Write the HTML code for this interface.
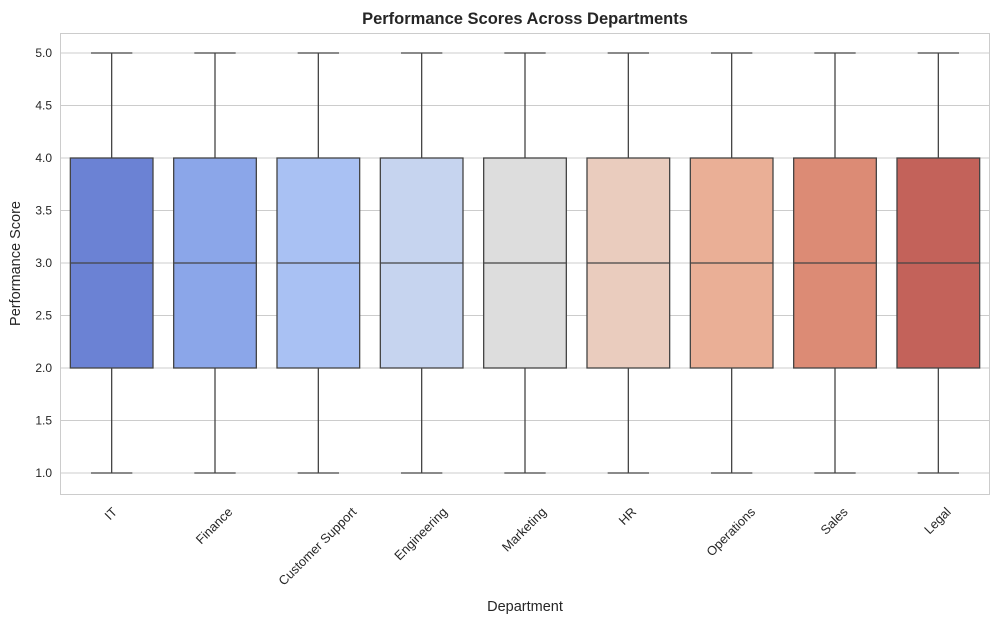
<!DOCTYPE html>
<html><head><meta charset="utf-8"><style>
body{margin:0;background:#fff;font-family:"Liberation Sans",Arial,sans-serif}
svg text{font-family:"Liberation Sans",Arial,sans-serif;fill:#262626}
</style></head><body>
<svg id="chart" width="999" height="624" viewBox="0 0 999 624">
<text x="525" y="24" text-anchor="middle" font-size="16.5" font-weight="bold">Performance Scores Across Departments</text>
<rect x="60.5" y="33.5" width="929" height="461" fill="none" stroke="#cccccc"/>
<g id="grid"></g><g id="boxes"></g><g id="yticks"></g><g id="xticks"></g>
<text x="525" y="611" text-anchor="middle" font-size="14.5">Department</text>
<text transform="translate(20,263.5) rotate(-90)" text-anchor="middle" font-size="14.5">Performance Score</text>
</svg>
<script>
const categories=["IT","Finance","Customer Support","Engineering","Marketing","HR","Operations","Sales","Legal"];
const mins=[1,1,1,1,1,1,1,1,1];
const q1s=[2,2,2,2,2,2,2,2,2];
const medians=[3,3,3,3,3,3,3,3,3];
const q3s=[4,4,4,4,4,4,4,4,4];
const maxs=[5,5,5,5,5,5,5,5,5];
const colors=["#6b82d4","#8ba6e9","#a9c1f3","#c6d4ef","#dddddd","#eaccbe","#eaaf96","#dc8b75","#c3625a"];
const yTicks=[1.0,1.5,2.0,2.5,3.0,3.5,4.0,4.5,5.0];
const NS="http://www.w3.org/2000/svg";
const L=60,R=990,T=33,B=494;
const y=v=>473-(v-1)*105;
const step=(R-L)/categories.length;
const x=i=>L+step*(i+0.5);
function mk(t,a,p){const e=document.createElementNS(NS,t);for(const k in a)e.setAttribute(k,a[k]);p.appendChild(e);return e;}
const grid=document.getElementById('grid'),yt=document.getElementById('yticks');
yTicks.forEach(v=>{
 const l=mk('line',{x1:L,x2:R,y1:y(v),y2:y(v),stroke:'#cccccc','stroke-width':1},grid);
 
 
 const t=mk('text',{x:L-8,y:y(v)+4,'text-anchor':'end','font-size':12},yt);
 t.textContent=v.toFixed(1);
 
 
});
const bx=document.getElementById('boxes'),xt=document.getElementById('xticks');
const bw=step*0.8;
categories.forEach((c,i)=>{
 const cx=x(i),g=mk('g',{},bx);
 
 
 const s={stroke:'#444','stroke-width':1.3};
 mk('line',Object.assign({x1:cx,x2:cx,y1:y(maxs[i]),y2:y(q3s[i])},s),g);
 mk('line',Object.assign({x1:cx,x2:cx,y1:y(q1s[i]),y2:y(mins[i])},s),g);
 mk('line',Object.assign({x1:cx-bw/4,x2:cx+bw/4,y1:y(maxs[i]),y2:y(maxs[i])},s),g);
 mk('line',Object.assign({x1:cx-bw/4,x2:cx+bw/4,y1:y(mins[i]),y2:y(mins[i])},s),g);
 mk('rect',Object.assign({x:cx-bw/2,y:y(q3s[i]),width:bw,height:y(q1s[i])-y(q3s[i]),fill:colors[i]},s),g);
 mk('line',Object.assign({x1:cx-bw/2,x2:cx+bw/2,y1:y(medians[i]),y2:y(medians[i])},s),g);
 const t=mk('text',{'font-size':12.8,'text-anchor':'middle','dominant-baseline':'central'},xt);
 t.textContent=c;
 
 
 const w=t.getComputedTextLength(),h=12.8;
 const cy=505+(w+h)*0.7071/2;
 const tx=cx-1;
 t.setAttribute('x',tx);t.setAttribute('y',cy);
 t.setAttribute('transform',`rotate(-45 ${tx} ${cy})`);
});
</script>
</body></html>
